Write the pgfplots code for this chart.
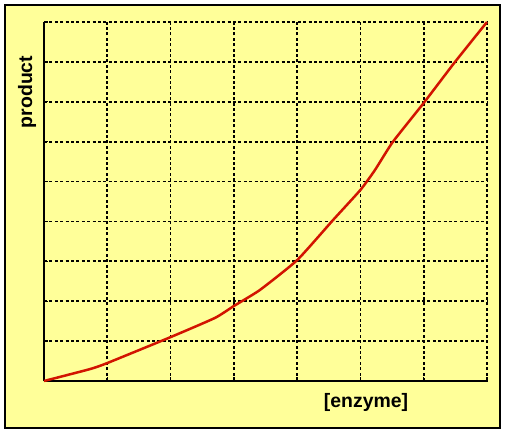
\documentclass[border=0pt]{standalone}
\usepackage{pgfplots}
\pgfplotsset{compat=1.18}
\usepackage{fontspec}
\setmainfont{Liberation Sans}
\definecolor{bgyellow}{RGB}{255,255,153}
\definecolor{curvered}{RGB}{210,20,0}
\begin{document}
\begin{tikzpicture}
\path[use as bounding box] (-44bp,-54bp) rectangle (463bp,381bp);
\filldraw[fill=bgyellow, draw=black, line width=1.2bp] (-39bp,-47bp) rectangle (456bp,376bp);
\begin{axis}[
  at={(0,0)}, anchor=south west,
  scale only axis, width=443bp, height=359bp,
  xmin=0, xmax=7, ymin=0, ymax=9,
  xtick={0,...,7}, ytick={0,...,9},
  xticklabels={}, yticklabels={},
  axis line style={line width=1.8bp, black},
  separate axis lines,
  axis x line*=bottom, axis y line*=left,
  x axis line style={-}, y axis line style={-},
  tick align=inside, major tick length=4bp,
  tick style={line width=1.4bp, black},
  grid=major,
  major grid style={black, line width=1.7bp, dash pattern=on 3bp off 2.4bp},
  xlabel={\bfseries\fontsize{19.5}{22}\selectfont [enzyme]},
  ylabel={\bfseries\fontsize{19.5}{22}\selectfont product},
  xlabel style={at={(axis description cs:0.727,-0.0585)}, anchor=center},
  ylabel style={at={(axis description cs:-0.038,0.805)}, anchor=center},
  clip=false,
]
\addplot[curvered, line width=2.5bp, smooth, tension=0.3] coordinates {
(0,0) (0.73,0.30) (1,0.45) (2,1.10) (2.7,1.58) (3,1.88) (3.41,2.28) (4,3.03)
(4.57,4.04) (5,4.79) (5.23,5.29) (5.51,5.99) (6,6.97) (6.49,7.99) (7,9)
};
\end{axis}
\end{tikzpicture}
\end{document}
